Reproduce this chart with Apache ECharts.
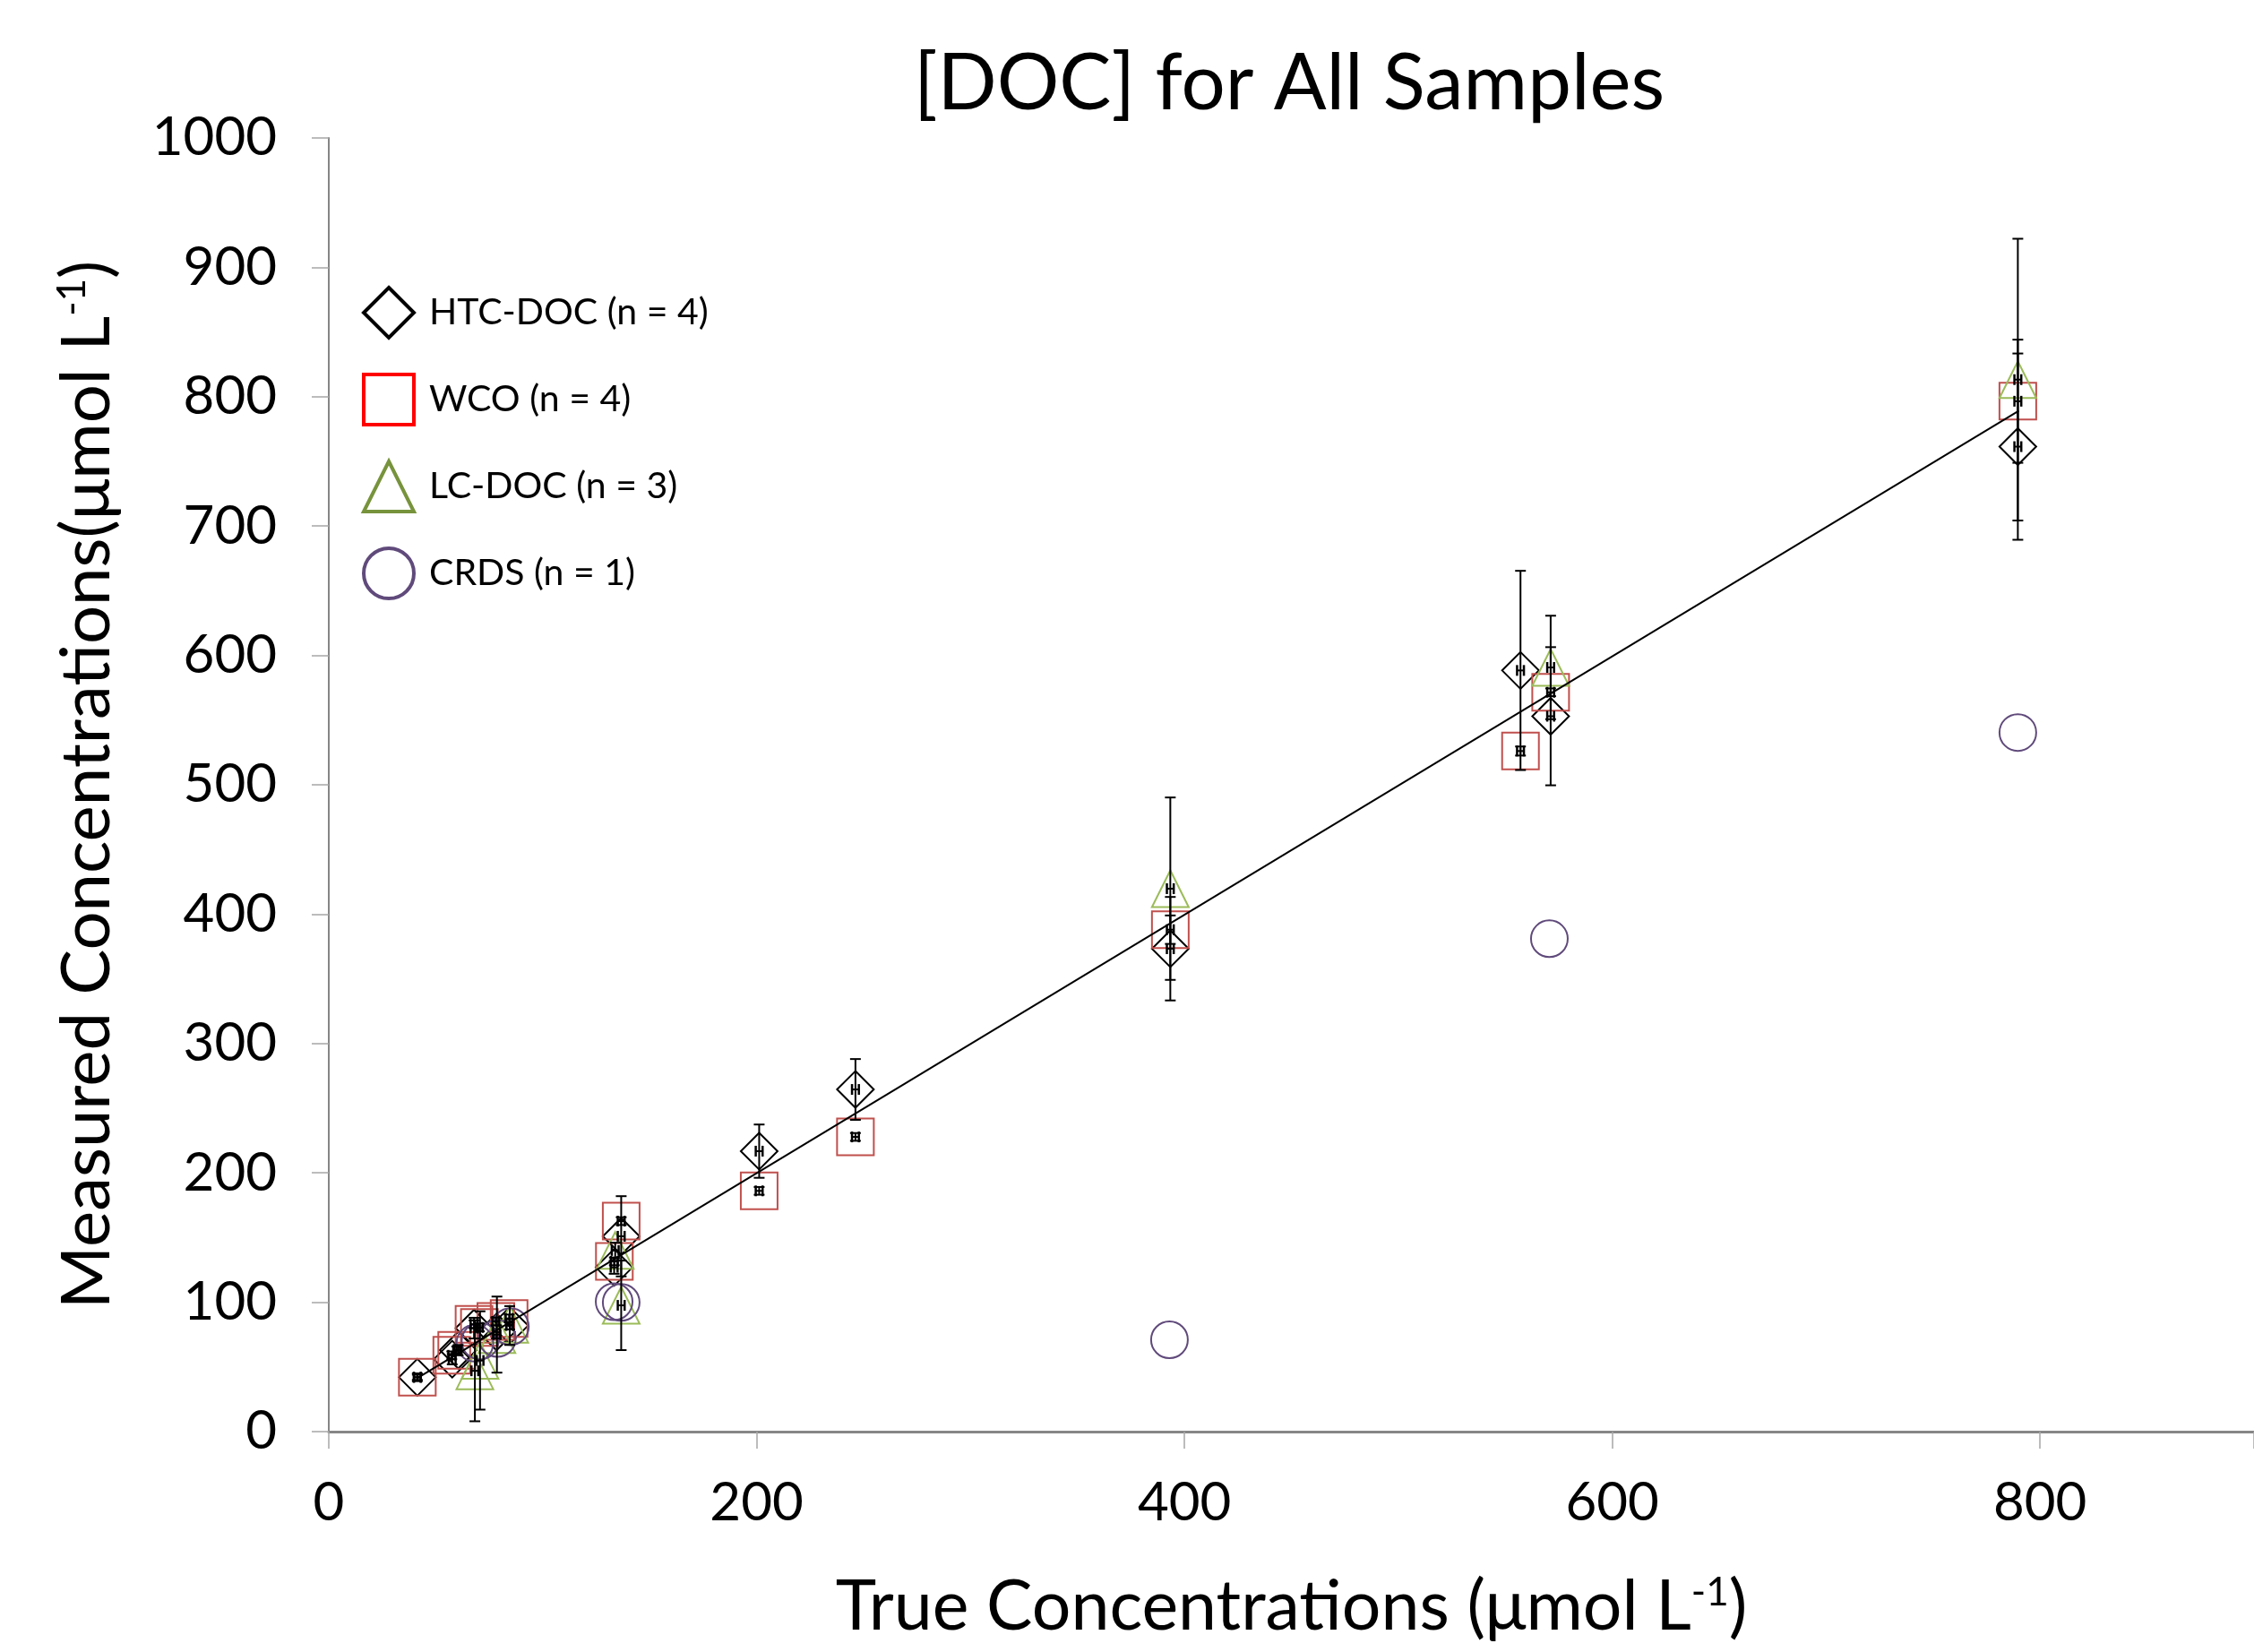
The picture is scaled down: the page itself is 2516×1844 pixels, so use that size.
<!DOCTYPE html>
<html>
<head>
<meta charset="utf-8">
<script src="https://cdn.jsdelivr.net/npm/echarts@6/dist/echarts.min.js"></script>
<style>html,body{margin:0;padding:0;background:#fff}#c{width:2516px;height:1844px}</style>
</head>
<body>
<div id="c"></div>
<script>
// ---- data ----
const xTicks = [0, 200, 400, 600, 800];
const yTicks = [0, 100, 200, 300, 400, 500, 600, 700, 800, 900, 1000];

// HTC-DOC: true conc, measured, error (±)
const htcX   = [41.4, 57.7, 60.5, 67.9, 78.4, 84.6, 133.4, 136.7, 201.2, 246.2, 393.4, 557.1, 571.2, 789.6];
const htcY   = [42,   56,   63,   80,   77,   82,   127,   151,   216.8, 264.5, 373.3, 588.4, 553,   761.4];
const htcErr = [2,    4,    4,    8,    5,    15,   5,     31,    20.6,  23.5,  40,    77,    53.4,  72];

// WCO
const wcoX   = [41.4, 57.5, 59.8, 67.9, 70.4, 78.1, 84.3, 133.5, 136.7, 201.2, 246.2, 393.4, 557.1, 571.2, 789.6];
const wcoY   = [42,   59,   62.8, 83,   80.5, 85.2, 87.5, 131.6, 162.7, 186.1, 227.8, 388,   526.1, 571.5, 796.5];
const wcoErr = [3,    3,    3,    3,    3,    3,    3,    3,     3,     3,     3,     11,    3.5,   3,     47.6];

// LC-DOC
const lcX   = [68.3, 70.7, 78.6, 84.6, 133.9, 136.7, 393.4, 571.2, 789.6];
const lcY   = [47,   55,   75,   83,   140,   97.6,  419.7, 590.7, 813.2];
const lcErr = [39,   38,   29.4, 4,    6,     34.6,  70.5,  40,    108.9];

// CRDS
const crX = [68.3, 70.7, 78.8, 84.9, 133.4, 136.7, 393, 570.6, 789.6];
const crY = [68.3, 70,   72,   81.2, 100.4, 99.9,  71,  381,   540.4];

// regression line end points
const fitX = [41.5, 790];
const fitY = [41.5, 789];

const names = ['HTC-DOC (n = 4)', 'WCO (n = 4)', 'LC-DOC (n = 3)', 'CRDS (n = 1)'];

// ---- build ----
const zip = (a, b, c) => a.map((v, i) => c ? [v, b[i], c[i]] : [v, b[i]]);
const FONT = 'Lato';

function errRender(params, api) {
  const x = api.value(0), y = api.value(1), e = api.value(2);
  const top = api.coord([x, y + e]);
  const bot = api.coord([x, y - e]);
  const c = api.coord([x, y]);
  const l = api.coord([x - 1.6, y]);
  const r = api.coord([x + 1.6, y]);
  const cw = 6, ch = 6;
  const st = {stroke: '#000', lineWidth: 2};
  return {
    type: 'group',
    children: [
      {type: 'line', shape: {x1: top[0], y1: top[1], x2: bot[0], y2: bot[1]}, style: st},
      {type: 'line', shape: {x1: top[0] - cw, y1: top[1], x2: top[0] + cw, y2: top[1]}, style: st},
      {type: 'line', shape: {x1: bot[0] - cw, y1: bot[1], x2: bot[0] + cw, y2: bot[1]}, style: st},
      {type: 'line', shape: {x1: l[0], y1: c[1], x2: r[0], y2: c[1]}, style: {stroke: '#000', lineWidth: 2}},
      {type: 'line', shape: {x1: l[0], y1: c[1] - ch, x2: l[0], y2: c[1] + ch}, style: {stroke: '#000', lineWidth: 2.5}},
      {type: 'line', shape: {x1: r[0], y1: c[1] - ch, x2: r[0], y2: c[1] + ch}, style: {stroke: '#000', lineWidth: 2.5}}
    ]
  };
}

function errSeries(data) {
  return {
    type: 'custom', data: data, renderItem: errRender, z: 4, silent: true,
    encode: {x: 0, y: 1}, clip: false
  };
}

function markerSeries(name, symbol, color, data) {
  return {
    name: name, type: 'scatter', symbol: symbol, symbolSize: 41, data: data, z: 3, silent: true,
    itemStyle: {color: 'transparent', borderColor: color, borderWidth: 2, opacity: 1},
    emphasis: {disabled: true}
  };
}

const chart = echarts.init(document.getElementById('c'), null, {renderer: 'canvas'});
chart.setOption({
  backgroundColor: '#fff',
  animation: false,
  textStyle: {fontFamily: FONT},
  graphic: [{
    type: 'text', x: 1439, y: 94,
    style: {text: '[DOC] for All Samples', font: '87px Lato', fill: '#000', textAlign: 'center', textVerticalAlign: 'middle'}
  }],
  legend: {
    orient: 'vertical', left: 399, top: 314,
    itemWidth: 56, itemHeight: 56, itemGap: 37,
    selectedMode: false,
    textStyle: {fontFamily: FONT, fontSize: 41, color: '#000', padding: [0, 0, 0, 12]},
    data: [
      {name: names[0], icon: 'diamond', itemStyle: {color: 'transparent', borderColor: '#000000', borderWidth: 4}},
      {name: names[1], icon: 'rect', itemStyle: {color: 'transparent', borderColor: '#FF0000', borderWidth: 4}},
      {name: names[2], icon: 'triangle', itemStyle: {color: 'transparent', borderColor: '#77933C', borderWidth: 4}},
      {name: names[3], icon: 'circle', itemStyle: {color: 'transparent', borderColor: '#604A7B', borderWidth: 4}}
    ]
  },
  grid: {left: 367, top: 154, width: 2154, height: 1444, containLabel: false},
  xAxis: {
    type: 'value', min: 0, max: 900, interval: 200,
    name: 'True Concentrations (μmol L{sup|-1})', nameLocation: 'middle', nameGap: 158,
    nameTextStyle: {fontFamily: FONT, fontSize: 77, color: '#000', rich: {sup: {fontSize: 44, verticalAlign: 'top', fontFamily: FONT, color: '#000'}}},
    axisLine: {show: true, onZero: false, lineStyle: {color: '#868686', width: 3}},
    axisTick: {show: true, inside: false, length: 19, lineStyle: {color: '#A6A6A6', width: 1.5}},
    axisLabel: {fontFamily: FONT, fontSize: 60, color: '#000', margin: 50,
      customValues: xTicks, formatter: v => String(v)},
    splitLine: {show: false}
  },
  yAxis: {
    type: 'value', min: 0, max: 1000, interval: 100,
    name: 'Measured Concentrations(μmol L{sup|-1})', nameLocation: 'middle', nameGap: 232,
    nameTextStyle: {fontFamily: FONT, fontSize: 76, color: '#000', rich: {sup: {fontSize: 44, verticalAlign: 'top', fontFamily: FONT, color: '#000'}}},
    axisLine: {show: true, onZero: false, lineStyle: {color: '#868686', width: 2}},
    axisTick: {show: true, inside: false, length: 19, lineStyle: {color: '#A6A6A6', width: 1.5}},
    axisLabel: {fontFamily: FONT, fontSize: 60, color: '#000', margin: 58, customValues: yTicks,
      formatter: v => String(v)},
    splitLine: {show: false}
  },
  series: [
    {type: 'line', data: zip(fitX, fitY), showSymbol: false, symbol: 'none', silent: true, z: 5,
      lineStyle: {color: '#000', width: 2}},
    markerSeries(names[0], 'diamond', '#000000', zip(htcX, htcY)),
    markerSeries(names[1], 'rect', '#C0504D', zip(wcoX, wcoY)),
    markerSeries(names[2], 'triangle', '#9BBB59', zip(lcX, lcY)),
    markerSeries(names[3], 'circle', '#604A7B', zip(crX, crY)),
    errSeries(zip(htcX, htcY, htcErr)),
    errSeries(zip(wcoX, wcoY, wcoErr)),
    errSeries(zip(lcX, lcY, lcErr))
  ]
});
</script>
</body>
</html>
